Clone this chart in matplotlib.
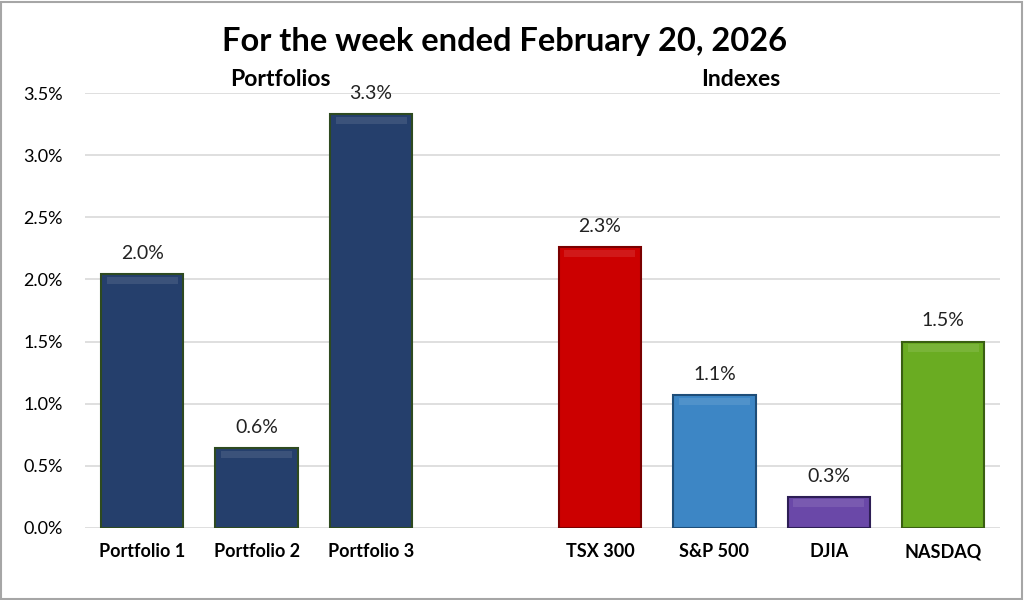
import matplotlib.pyplot as plt
from matplotlib.ticker import FuncFormatter

categories = ["Portfolio 1", "Portfolio 2", "Portfolio 3", "", "TSX 300", "S&P 500", "DJIA", "NASDAQ"]
values = [2.04, 0.64, 3.33, None, 2.26, 1.07, 0.25, 1.50]
labels = ["2.0%", "0.6%", "3.3%", "", "2.3%", "1.1%", "0.3%", "1.5%"]
colors = ["#253F6C", "#253F6C", "#253F6C", "none", "#CC0000", "#3D86C5", "#6A48A8", "#6AAC22"]
edges = ["#2E4A20", "#2E4A20", "#2E4A20", "none", "#7A0000", "#1E4D78", "#2D1E55", "#3A5F12"]

plt.rcParams['font.family'] = ['Lato', 'DejaVu Sans']

fig = plt.figure(figsize=(10.24, 6), dpi=100)
ax = fig.add_axes([0.083, 0.12, 0.894, 0.725])

x = list(range(len(categories)))
for i, v in enumerate(values):
    if v is None:
        continue
    ax.bar(i, v, width=0.72, color=colors[i], edgecolor=edges[i], linewidth=1.5, zorder=3)
    # soft highlight near the top to hint at the bevel
    ax.bar(i, 0.06, bottom=v - 0.08, width=0.62, color="white", alpha=0.1, linewidth=0, zorder=4)
    ax.text(i, v + 0.1, labels[i], ha="center", va="bottom", fontsize=14, color="#222222")

ax.set_xlim(-0.5, len(categories) - 0.5)
ax.set_ylim(0, 3.5)
ax.set_yticks([0, 0.5, 1.0, 1.5, 2.0, 2.5, 3.0, 3.5])
ax.yaxis.set_major_formatter(FuncFormatter(lambda v, p: f"{v:.1f}%"))
ax.set_xticks(x)
ax.set_xticklabels(categories, fontsize=13, fontweight="bold")
ax.tick_params(axis="y", labelsize=13, length=0, pad=16)
ax.tick_params(axis="x", length=0, pad=11)
ax.grid(axis="y", color="#D9D9D9", linewidth=1.2, zorder=0)
for s in ax.spines.values():
    s.set_visible(False)

fig.text(0.493, 0.93, "For the week ended February 20, 2026", ha="center", va="center",
         fontsize=23.5, fontweight="bold")
fig.text(0.274, 0.868, "Portfolios", ha="center", va="center", fontsize=16.5, fontweight="bold")
fig.text(0.723, 0.868, "Indexes", ha="center", va="center", fontsize=16.5, fontweight="bold")

fig.patches.append(plt.Rectangle((0.001, 0.002), 0.997, 0.995, transform=fig.transFigure,
                                 fill=False, edgecolor="#A6A6A6", linewidth=1.5))

fig.savefig("out.png", dpi=100)
